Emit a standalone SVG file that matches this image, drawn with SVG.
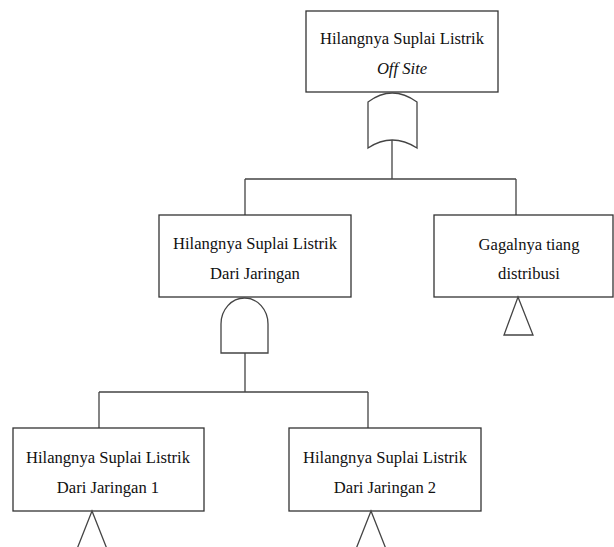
<svg xmlns="http://www.w3.org/2000/svg" width="614" height="547" viewBox="0 0 614 547">
<style>
.box{fill:#fff;stroke:#333;stroke-width:1.3}
.gate{fill:#fff;stroke:#444;stroke-width:1.3}
.ln{fill:none;stroke:#444;stroke-width:1.3}
text{font-family:"Liberation Serif","Times New Roman",serif;font-size:16.6px;fill:#111;text-anchor:middle}
</style>
<rect width="614" height="547" fill="#fff"/>
<g id="connectors">
<path class="ln" d="M392,140 V179 M245,179 H516 M245,179 V215 M516,179 V215"/>
<path class="ln" d="M245,353 V392 M99,392 H368 M99,392 V428 M368,392 V428"/>
</g>
<g id="top">
<rect class="box" x="306" y="11" width="192" height="81"/>
<text x="402" y="44">Hilangnya Suplai Listrik</text>
<text x="402" y="74" font-style="italic">Off Site</text>
<path class="gate" d="M368,102 Q392,84 417,102 L417,148 Q392,132 368,148 Z"/>
</g>
<g id="dari-jaringan">
<rect class="box" x="159" y="215" width="192" height="82"/>
<text x="255" y="249">Hilangnya Suplai Listrik</text>
<text x="255" y="279">Dari Jaringan</text>
<path class="gate" d="M221,353 V324 A23.5,26 0 0 1 268,324 V353 Z"/>
</g>
<g id="tiang">
<rect class="box" x="434" y="215" width="179" height="82"/>
<text x="529" y="250">Gagalnya tiang</text>
<text x="529" y="279">distribusi</text>
<path class="gate" d="M518,297 L533,335 H504 Z"/>
</g>
<g id="jaringan1">
<rect class="box" x="13" y="428" width="191" height="83"/>
<text x="108" y="463">Hilangnya Suplai Listrik</text>
<text x="108" y="493">Dari Jaringan 1</text>
<path class="gate" d="M92,511 L107,549 H77 Z"/>
</g>
<g id="jaringan2">
<rect class="box" x="289" y="428" width="192" height="83"/>
<text x="385" y="463">Hilangnya Suplai Listrik</text>
<text x="385" y="493">Dari Jaringan 2</text>
<path class="gate" d="M371,511 L386,549 H356 Z"/>
</g>
</svg>
